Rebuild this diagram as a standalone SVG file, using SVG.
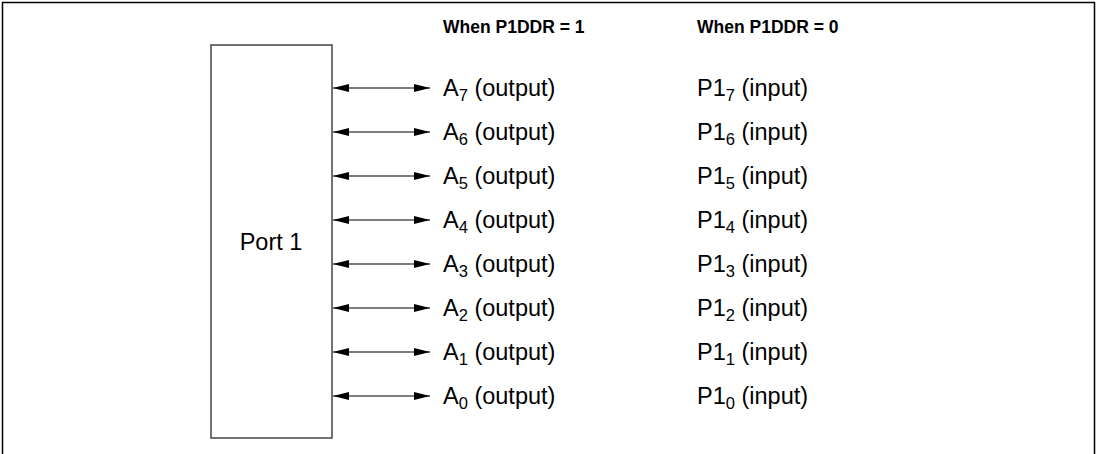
<svg xmlns="http://www.w3.org/2000/svg" width="1098" height="454" viewBox="0 0 1098 454">
<defs>
<style>
.t{font-family:"Liberation Sans",Arial,sans-serif;font-size:23.5px;fill:#000}
.s{font-size:16.5px}
.h{font-family:"Liberation Sans",Arial,sans-serif;font-size:17.5px;font-weight:bold;fill:#000}
.c{stroke:#000;stroke-width:1.2;fill:none}
</style>
<marker id="ah" viewBox="0 0 16 8" refX="16" refY="4" markerWidth="16" markerHeight="8" markerUnits="userSpaceOnUse" orient="auto-start-reverse">
<path d="M0,0 L16,4 L0,8 Z" fill="#000"/>
</marker>
</defs>
<g id="frame">
<path d="M2.5,454 V2.5 H1094.5 V454" fill="none" stroke="#000" stroke-width="1.5"/>
</g>
<g id="port1">
<rect x="211" y="45" width="121" height="393" fill="#fff" stroke="#444" stroke-width="1.5"/>
<text class="t" x="271" y="250" text-anchor="middle">Port 1</text>
</g>
<g id="headers">
<text class="h" x="443" y="32.5">When P1DDR = 1</text>
<text class="h" x="697" y="32.5">When P1DDR = 0</text>
</g>
<g id="connectors">
<line class="c" x1="333" y1="88" x2="430" y2="88" marker-start="url(#ah)" marker-end="url(#ah)"/>
<line class="c" x1="333" y1="132" x2="430" y2="132" marker-start="url(#ah)" marker-end="url(#ah)"/>
<line class="c" x1="333" y1="176" x2="430" y2="176" marker-start="url(#ah)" marker-end="url(#ah)"/>
<line class="c" x1="333" y1="220" x2="430" y2="220" marker-start="url(#ah)" marker-end="url(#ah)"/>
<line class="c" x1="333" y1="264" x2="430" y2="264" marker-start="url(#ah)" marker-end="url(#ah)"/>
<line class="c" x1="333" y1="308" x2="430" y2="308" marker-start="url(#ah)" marker-end="url(#ah)"/>
<line class="c" x1="333" y1="352" x2="430" y2="352" marker-start="url(#ah)" marker-end="url(#ah)"/>
<line class="c" x1="333" y1="396" x2="430" y2="396" marker-start="url(#ah)" marker-end="url(#ah)"/>
</g>
<g id="labels">
<text class="t" x="443" y="96">A<tspan class="s" dy="5">7</tspan><tspan dy="-5"> (output)</tspan></text>
<text class="t" x="443" y="140">A<tspan class="s" dy="5">6</tspan><tspan dy="-5"> (output)</tspan></text>
<text class="t" x="443" y="184">A<tspan class="s" dy="5">5</tspan><tspan dy="-5"> (output)</tspan></text>
<text class="t" x="443" y="228">A<tspan class="s" dy="5">4</tspan><tspan dy="-5"> (output)</tspan></text>
<text class="t" x="443" y="272">A<tspan class="s" dy="5">3</tspan><tspan dy="-5"> (output)</tspan></text>
<text class="t" x="443" y="316">A<tspan class="s" dy="5">2</tspan><tspan dy="-5"> (output)</tspan></text>
<text class="t" x="443" y="360">A<tspan class="s" dy="5">1</tspan><tspan dy="-5"> (output)</tspan></text>
<text class="t" x="443" y="404">A<tspan class="s" dy="5">0</tspan><tspan dy="-5"> (output)</tspan></text>
<text class="t" x="697" y="96">P1<tspan class="s" dy="5">7</tspan><tspan dy="-5"> (input)</tspan></text>
<text class="t" x="697" y="140">P1<tspan class="s" dy="5">6</tspan><tspan dy="-5"> (input)</tspan></text>
<text class="t" x="697" y="184">P1<tspan class="s" dy="5">5</tspan><tspan dy="-5"> (input)</tspan></text>
<text class="t" x="697" y="228">P1<tspan class="s" dy="5">4</tspan><tspan dy="-5"> (input)</tspan></text>
<text class="t" x="697" y="272">P1<tspan class="s" dy="5">3</tspan><tspan dy="-5"> (input)</tspan></text>
<text class="t" x="697" y="316">P1<tspan class="s" dy="5">2</tspan><tspan dy="-5"> (input)</tspan></text>
<text class="t" x="697" y="360">P1<tspan class="s" dy="5">1</tspan><tspan dy="-5"> (input)</tspan></text>
<text class="t" x="697" y="404">P1<tspan class="s" dy="5">0</tspan><tspan dy="-5"> (input)</tspan></text>
</g>
</svg>
